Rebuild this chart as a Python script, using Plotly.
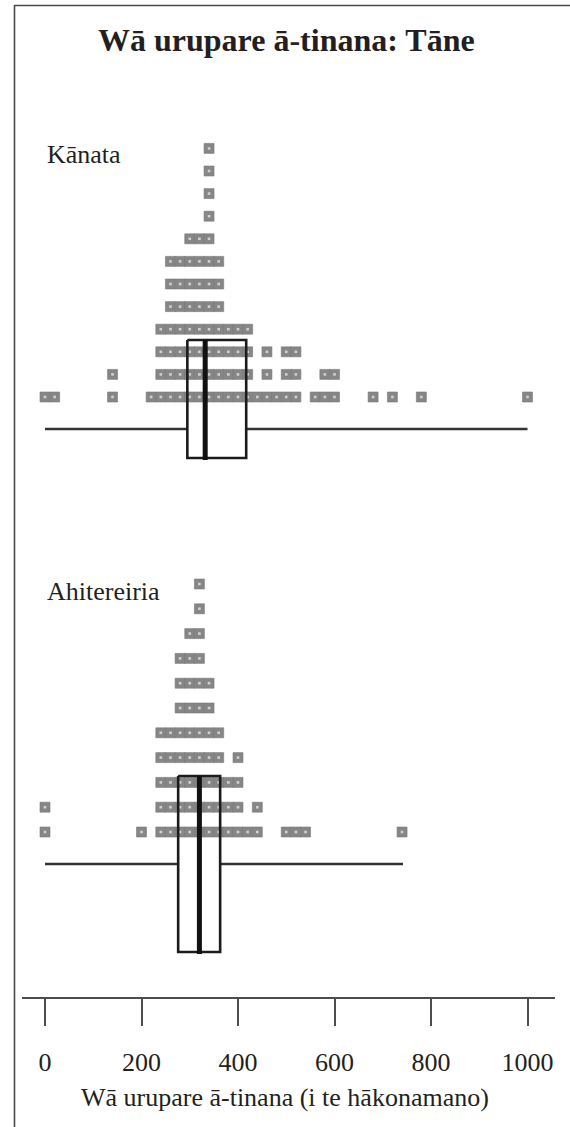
import plotly.graph_objects as go

# Reaction time bins (ms) and how many people fell in each bin
kanata_ms = [0, 20, 140, 220, 240, 260, 280, 300, 320, 340, 360, 380, 400,
             420, 440, 460, 480, 500, 520, 560, 580, 600, 680, 720, 780, 1000]
kanata_n = [1, 1, 2, 1, 4, 7, 7, 8, 8, 12, 7, 4, 4,
            4, 1, 3, 1, 3, 3, 1, 2, 2, 1, 1, 1, 1]

ahitereiria_ms = [0, 200, 240, 260, 280, 300, 320, 340, 360, 380, 400,
                  420, 440, 500, 520, 540, 740]
ahitereiria_n = [2, 1, 5, 5, 8, 9, 11, 7, 5, 3, 4,
                 1, 2, 1, 1, 1, 1]

# Box plot summaries: [Kānata, Ahitereiria]
groups = ["Kānata", "Ahitereiria"]
box_min = [0, 0]
box_q1 = [295, 276]
box_med = [332, 320]
box_q3 = [417, 363]
box_max = [1000, 742]

tick_vals = [0, 200, 400, 600, 800, 1000]
tick_text = ["0", "200", "400", "600", "800", "1000"]

title_text = "Wā urupare ā-tinana: Tāne"
axis_title = "Wā urupare ā-tinana (i te hākonamano)"

# ---- page geometry (pixels) ----
W, H = 570, 1127
M_L, M_R, M_B = 22, 15, 130
plot_h = H - M_B
plot_w = W - M_L - M_R
X0_PX, PX_PER_MS = 45, 0.4825
x_range = [(M_L - X0_PX) / PX_PER_MS, (W - M_R - X0_PX) / PX_PER_MS]


def paper_x(px):
    return (px - M_L) / plot_w


def paper_y(py):
    return 1 - py / plot_h


FONT = "Liberation Serif"
INK = "#231f20"
DOT = "#868686"

# per-panel layout: label position, dot rows, box extent
panels = [
    dict(ms=kanata_ms, n=kanata_n, label_y=155, row0=397, step=22.6,
         box_top=340, box_bot=458, whisk_y=429),
    dict(ms=ahitereiria_ms, n=ahitereiria_n, label_y=591, row0=832, step=24.8,
         box_top=776, box_bot=952, whisk_y=864),
]

fig = go.Figure()
annotations = []

for gi, p in enumerate(panels):
    xs, ys = [], []
    for v, c in zip(p["ms"], p["n"]):
        for i in range(c):
            xs.append(v)
            ys.append(p["row0"] - i * p["step"])
    # stacked dots
    fig.add_trace(go.Scatter(
        x=xs, y=ys, mode="markers", hoverinfo="skip", showlegend=False,
        marker=dict(symbol="square", size=10, color=DOT,
                    line=dict(width=0.6, color="#7a7a7a")),
    ))
    fig.add_trace(go.Scatter(
        x=xs, y=ys, mode="markers", hoverinfo="skip", showlegend=False,
        marker=dict(symbol="square", size=2.6, color="#d0d0d0",
                    line=dict(width=0)),
    ))

    # whiskers
    wy = p["whisk_y"]
    fig.add_trace(go.Scatter(
        x=[box_min[gi], box_q1[gi], None, box_q3[gi], box_max[gi]],
        y=[wy, wy, None, wy, wy], mode="lines", hoverinfo="skip",
        showlegend=False, line=dict(color="#333333", width=2.4),
    ))
    # box outline
    t, b = p["box_top"], p["box_bot"]
    fig.add_trace(go.Scatter(
        x=[box_q1[gi], box_q3[gi], box_q3[gi], box_q1[gi], box_q1[gi]],
        y=[t, t, b, b, t], mode="lines", hoverinfo="skip",
        showlegend=False, line=dict(color="#1b1b1b", width=2.6),
    ))
    # median
    fig.add_trace(go.Scatter(
        x=[box_med[gi], box_med[gi]], y=[t, b + 2], mode="lines",
        hoverinfo="skip", showlegend=False,
        line=dict(color="#111111", width=5),
    ))

    annotations.append(dict(
        text=groups[gi], x=paper_x(45), y=paper_y(p["label_y"]),
        xref="paper", yref="paper", xanchor="left", yanchor="middle",
        showarrow=False, font=dict(family=FONT, size=26, color=INK),
    ))

annotations.append(dict(
    text="<b>" + title_text + "</b>", x=paper_x(286), y=paper_y(40),
    xref="paper", yref="paper", xanchor="center", yanchor="middle",
    showarrow=False, font=dict(family=FONT, size=32, color=INK),
))
annotations.append(dict(
    text=axis_title, x=paper_x(285), y=paper_y(1097),
    xref="paper", yref="paper", xanchor="center", yanchor="middle",
    showarrow=False, font=dict(family=FONT, size=26, color=INK),
))

frame = "#4a4a4a"
shapes = [
    dict(type="line", xref="paper", yref="paper",
         x0=paper_x(14.5), x1=paper_x(14.5), y0=paper_y(5), y1=paper_y(H),
         line=dict(color=frame, width=1.6)),
    dict(type="line", xref="paper", yref="paper",
         x0=paper_x(14), x1=paper_x(W), y0=paper_y(5.5), y1=paper_y(5.5),
         line=dict(color=frame, width=1.6)),
]

fig.update_layout(
    width=W, height=H,
    margin=dict(l=M_L, r=M_R, t=0, b=M_B, pad=0),
    paper_bgcolor="white", plot_bgcolor="white",
    showlegend=False,
    annotations=annotations,
    shapes=shapes,
    xaxis=dict(
        range=x_range, fixedrange=True, showgrid=False, zeroline=False,
        showline=True, linecolor="#4d4d4d", linewidth=2.2,
        tickmode="array", tickvals=tick_vals, ticktext=tick_text,
        ticks="outside", ticklen=27, tickwidth=2.2, tickcolor="#4d4d4d",
        ticklabelstandoff=14,
        tickfont=dict(family=FONT, size=26, color=INK),
    ),
    yaxis=dict(range=[plot_h, 0], visible=False, fixedrange=True),
)

fig.write_html("out.html")
